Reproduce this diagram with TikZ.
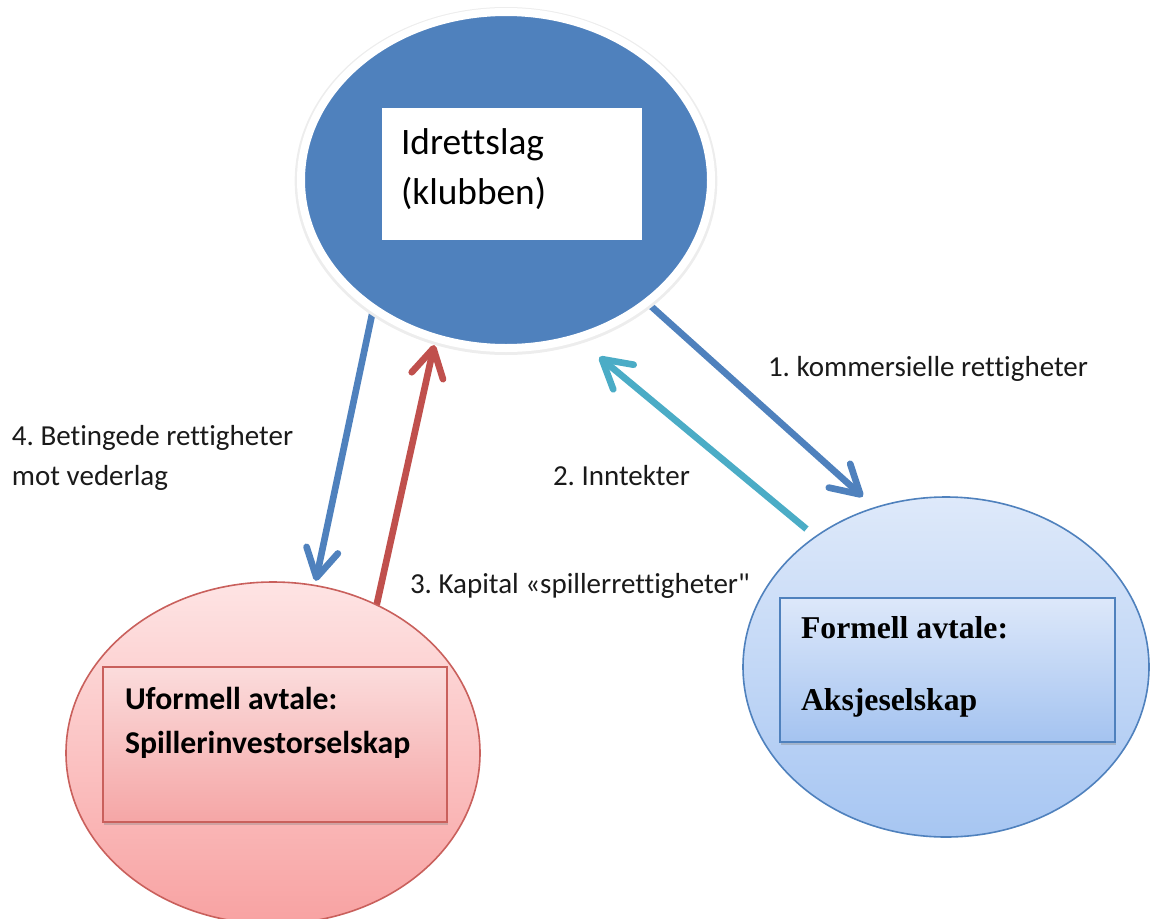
\documentclass[tikz,border=0pt]{standalone}
\usepackage{fontspec}
\setmainfont{Carlito}[Ligatures={NoCommon,TeXOff}]
\newfontfamily\serifbold{Liberation Serif}
\usetikzlibrary{shapes.geometric,arrows.meta,shadows}
\pgfdeclarelayer{back}
\pgfsetlayers{back,main}
\frenchspacing

\definecolor{clubblue}{HTML}{4F81BD}
\definecolor{flowteal}{HTML}{4BACC6}
\definecolor{flowred}{HTML}{C0504D}
\definecolor{pinktop}{HTML}{FEE4E4}
\definecolor{pinkbot}{HTML}{F8A2A2}
\definecolor{pinkboxtop}{HTML}{FBDCDC}
\definecolor{pinkboxbot}{HTML}{F5A6A6}
\definecolor{pinkline}{HTML}{C9605C}
\definecolor{bluetop}{HTML}{DEE9FA}
\definecolor{bluebot}{HTML}{A7C6F2}
\definecolor{blueboxtop}{HTML}{DDE8FA}
\definecolor{blueboxbot}{HTML}{A4C3F0}
\definecolor{txt}{HTML}{1A1A1A}

\tikzset{
  every node/.style={outer sep=0pt},
  party/.style={ellipse, inner sep=0pt},
  flow/.style={line width=5pt, -{Straight Barb[length=21pt,width=24pt,round]}},
  labeltxt/.style={anchor=base west, inner sep=0pt, text=txt,
    font=\fontsize{21.75}{30}\selectfont},
  agreement/.style={rectangle, inner sep=0pt, line width=1.2pt,
    drop shadow={shadow xshift=1pt, shadow yshift=-2pt, opacity=0.35}},
  boxtxt/.style={anchor=base west, inner sep=0pt, text=black},
}

\begin{document}
\begin{tikzpicture}[x=0.75pt,y=-0.75pt]
\useasboundingbox (0,0) rectangle (1150,918);
\clip (0,0) rectangle (1150,918);

% club ellipse with soft halo and white rim
\fill[black!7] (506,181) ellipse [x radius=158.5pt, y radius=130.5pt];
\node[party, minimum width=307.5pt, minimum height=252pt,
      fill=clubblue, draw=white, line width=6pt] (club) at (506,180) {};
\node[rectangle, fill=white, inner sep=0pt, minimum width=195pt,
      minimum height=99pt] (clubbox) at (512,174) {};
\node[boxtxt, font=\fontsize{28}{37.5}\selectfont] (clubname) at (401,154) {Idrettslag};
\node[boxtxt, font=\fontsize{28}{37.5}\selectfont] (clubsub) at (401,204) {(klubben)};

% player investor company
\node[party, minimum width=310.5pt, minimum height=256.5pt,
      top color=pinktop, bottom color=pinkbot, draw=pinkline, line width=1.2pt]
      (inv) at (273,753) {};
\node[agreement, minimum width=258pt, minimum height=116.25pt,
      top color=pinkboxtop, bottom color=pinkboxbot, draw=pinkline]
      (invbox) at (275,744.5) {};
\node[boxtxt, font=\fontsize{23.8}{33}\selectfont\bfseries] (invtype) at (125,709) {Uformell avtale:};
\node[boxtxt, font=\fontsize{23.8}{33}\selectfont\bfseries] (invname) at (125,753) {Spillerinvestorselskap};

% limited company
\node[party, minimum width=304.5pt, minimum height=255pt,
      top color=bluetop, bottom color=bluebot, draw=clubblue, line width=1.2pt]
      (as) at (946,667) {};
\node[agreement, minimum width=251.25pt, minimum height=108pt,
      top color=blueboxtop, bottom color=blueboxbot, draw=clubblue]
      (asbox) at (947.5,670) {};
\node[boxtxt, font=\serifbold\fontsize{23.8}{33}\selectfont\bfseries] (astype) at (801,638) {Formell avtale:};
\node[boxtxt, font=\serifbold\fontsize{23.8}{33}\selectfont\bfseries] (asname) at (801,710) {Aksjeselskap};

% flows between the parties
\begin{pgfonlayer}{back}
  \draw[flow, clubblue, shorten >=12.4pt] (club.319) -- (as.114);
  \draw[flow, flowteal, shorten <=9pt, shorten >=22.5pt] (as.135.6) -- (club.294.5);
  \draw[flow, flowred, shorten >=5.6pt] (inv.55) -- (club.246.4);
  \draw[flow, clubblue, shorten >=3.6pt] (club.224) -- (inv.76.6);
\end{pgfonlayer}

% flow labels
\node[labeltxt] (l1) at (768,376) {1. kommersielle rettigheter};
\node[labeltxt] (l2) at (553,485) {2. Inntekter};
\node[labeltxt] (l3) at (410,593) {3. Kapital «spillerrettigheter"};
\node[labeltxt] (l4a) at (12,445) {4. Betingede rettigheter};
\node[labeltxt] (l4b) at (12,485) {mot vederlag};
\end{tikzpicture}
\end{document}
